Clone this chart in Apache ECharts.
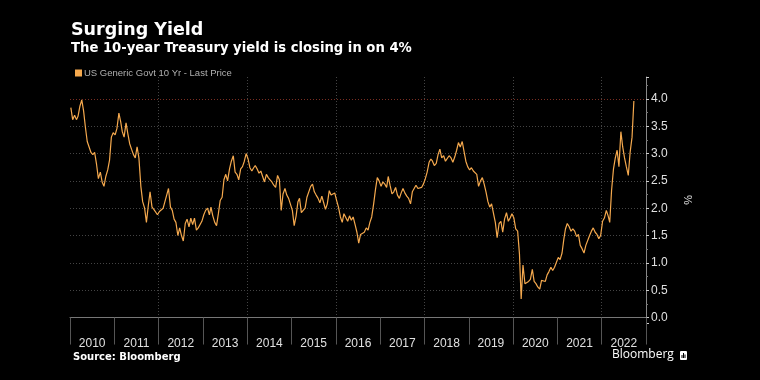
<!DOCTYPE html>
<html>
<head>
<meta charset="utf-8">
<script src="https://cdn.jsdelivr.net/npm/echarts@6/dist/echarts.min.js"></script>
<style>
html,body{margin:0;padding:0;background:#000;}
#chart{width:760px;height:380px;}
</style>
</head>
<body>
<div id="chart"></div>
<script>
// Year labels on the x axis
const years = ['2010','2011','2012','2013','2014','2015','2016','2017','2018','2019','2020','2021','2022'];
// US 10-year yield (%), two readings per month (early / late)
const y2010 = [3.84,3.62, 3.70,3.62, 3.68,3.86, 3.98,3.78, 3.48,3.22, 3.24,3.02, 2.98,3.02, 2.80,2.54, 2.66,2.48, 2.40,2.58, 2.70,2.88, 3.30,3.38];
const y2011 = [3.34,3.46, 3.74,3.58, 3.40,3.30, 3.56,3.36, 3.18,3.08, 2.98,2.92, 3.12,2.92, 2.40,2.12, 2.00,1.74, 2.04,2.30, 2.02,1.98, 2.00,1.88];
const y2012 = [1.94,1.96, 2.00,1.98, 2.24,2.36, 2.02,1.96, 1.80,1.74, 1.50,1.64, 1.50,1.40, 1.72,1.80, 1.66,1.82, 1.70,1.82, 1.60,1.64, 1.66,1.76];
const y2013 = [1.88,1.96, 2.00,1.88, 2.02,1.86, 1.74,1.68, 1.90,2.14, 2.20,2.52, 2.62,2.50, 2.72,2.86, 2.96,2.66, 2.62,2.52, 2.72,2.76, 2.86,3.00];
const y2014 = [2.90,2.74, 2.68,2.74, 2.78,2.72, 2.64,2.68, 2.58,2.48, 2.62,2.56, 2.52,2.48, 2.42,2.38, 2.60,2.52, 1.96,2.26, 2.36,2.24, 2.18,2.20];
const y2015 = [1.96,1.68, 1.86,2.12, 2.18,1.92, 1.90,2.00, 2.20,2.18, 2.40,2.44, 2.30,2.24, 2.18,2.10, 2.22,2.10, 1.98,2.08, 2.32,2.24, 2.22,2.28];
const y2016 = [2.14,2.02, 1.84,1.74, 1.90,1.88, 1.76,1.86, 1.78,1.84, 1.70,1.56, 1.36,1.52, 1.54,1.56, 1.64,1.60, 1.74,1.84, 2.08,2.34, 2.56,2.50];
const y2017 = [2.40,2.48, 2.44,2.38, 2.58,2.42, 2.26,2.30, 2.38,2.24, 2.18,2.28, 2.36,2.28, 2.22,2.18, 2.08,2.30, 2.36,2.42, 2.36,2.34, 2.38,2.44];
const y2018 = [2.54,2.66, 2.84,2.90, 2.86,2.78, 2.82,2.98, 3.08,2.92, 2.96,2.86, 2.84,2.96, 2.92,2.84, 2.94,3.06, 3.20,3.12, 3.22,3.04, 2.86,2.76];
const y2019 = [2.70,2.74, 2.68,2.66, 2.62,2.40, 2.50,2.56, 2.44,2.30, 2.12,2.02, 2.08,2.06, 1.74,1.46, 1.72,1.76, 1.56,1.80, 1.92,1.76, 1.82,1.90];
const y2020 = [1.82,1.62, 1.58,1.16, 0.34,0.96, 0.62,0.64, 0.66,0.70, 0.88,0.66, 0.62,0.56, 0.52,0.68, 0.68,0.66, 0.78,0.84, 0.92,0.86, 0.92,0.94];
const y2021 = [1.10,1.06, 1.18,1.44, 1.62,1.72, 1.66,1.58, 1.62,1.58, 1.48,1.52, 1.32,1.26, 1.18,1.32, 1.32,1.50, 1.58,1.64, 1.56,1.52, 1.44,1.50];
const y2022 = [1.76,1.82, 1.96,1.86, 1.74,2.32, 2.72,2.92, 3.06,2.76, 3.40,3.12, 2.92,2.76, 2.60,3.02, 3.30,3.96];
const seriesName = 'US Generic Govt 10 Yr - Last Price';

const yearly = [y2010,y2011,y2012,y2013,y2014,y2015,y2016,y2017,y2018,y2019,y2020,y2021,y2022];
const points = [];
yearly.forEach(function (vals, yi) {
  const yr = 2010 + yi;
  vals.forEach(function (v, k) {
    const month = Math.floor(k / 2);
    const day = (k % 2) ? 23 : 8;
    points.push([Date.UTC(yr, month, day), v]);
  });
});

const chart = echarts.init(document.getElementById('chart'), null, {renderer: 'canvas'});
const txt = '#e0e0e0';
chart.setOption({
  backgroundColor: '#000',
  animation: false,
  title: {
    text: 'Surging Yield',
    subtext: 'The 10-year Treasury yield is closing in on 4%',
    left: 66, top: 16, itemGap: 3,
    textStyle: {color: '#fff', fontSize: 17.5, fontWeight: 'bold', fontFamily: 'DejaVu Sans'},
    subtextStyle: {color: '#fff', fontSize: 13.2, fontWeight: 'bold', fontFamily: 'DejaVu Sans'}
  },
  legend: {
    left: 70, top: 63, itemWidth: 7, itemHeight: 7, icon: 'rect',
    data: [seriesName],
    textStyle: {color: '#b0b0b0', fontSize: 9.5, fontFamily: 'Liberation Sans', padding: [0,0,0,-3]}
  },
  grid: {left: 70, right: 114, top: 77, bottom: 57},
  xAxis: [
    {
      type: 'category', data: years, boundaryGap: true,
      axisLine: {show: true, lineStyle: {color: '#777', width: 1}},
      axisTick: {show: true, length: 27, lineStyle: {color: '#555'}},
      axisLabel: {color: txt, fontSize: 12, margin: 15, fontFamily: 'Liberation Sans'},
      splitLine: {show: true, interval: function (i) { return i > 0 && i % 2 === 0; },
        lineStyle: {color: '#444', type: [1, 2]}}
    },
    {
      type: 'time', show: false,
      min: Date.UTC(2010, 0, 1), max: Date.UTC(2023, 0, 1)
    }
  ],
  yAxis: {
    type: 'value', position: 'right', min: -0.1, max: 4.4, splitNumber: 9,
    name: '%', nameLocation: 'middle', nameGap: 36, nameRotate: -90,
    nameTextStyle: {color: txt, fontSize: 11},
    axisLine: {show: true, lineStyle: {color: '#888'}},
    axisTick: {show: true, length: 3, lineStyle: {color: '#ccc'}},
    minorTick: {show: true, splitNumber: 2, length: 2, lineStyle: {color: '#777'}},
    axisLabel: {color: txt, fontSize: 12, margin: 5, showMinLabel: false, showMaxLabel: false,
      fontFamily: 'Liberation Sans',
      formatter: function (v) { return v.toFixed(1); }},
    splitLine: {show: true, showMinLine: false, showMaxLine: false,
      lineStyle: {color: '#444', type: [1, 2]}}
  },
  series: [{
    name: seriesName, type: 'line', xAxisIndex: 1, data: points,
    showSymbol: false, symbol: 'none',
    lineStyle: {color: '#f5a94e', width: 1.2},
    itemStyle: {color: '#f5a94e'},
    markLine: {
      silent: true, symbol: 'none', label: {show: false},
      lineStyle: {color: '#7a2e22', type: [1, 2], width: 1},
      data: [{yAxis: 4.0}]
    }
  }],
  graphic: [
    {type: 'text', left: 73, top: 352,
      style: {text: 'Source: Bloomberg', fill: '#fff', fontSize: 10, fontWeight: 'bold', fontFamily: 'DejaVu Sans'}},
    {type: 'text', left: 612, top: 349,
      style: {text: 'Bloomberg', fill: '#fff', fontSize: 12, fontFamily: 'Open Sans'}},
    {type: 'group', left: 680, top: 351, children: [
      {type: 'rect', shape: {x: 0, y: 0, width: 7, height: 9, r: 1}, style: {fill: '#fff'}},
      {type: 'rect', shape: {x: 1.5, y: 4, width: 1, height: 3}, style: {fill: '#000'}},
      {type: 'rect', shape: {x: 3, y: 2, width: 1, height: 5}, style: {fill: '#000'}},
      {type: 'rect', shape: {x: 4.5, y: 3.5, width: 1, height: 3.5}, style: {fill: '#000'}}
    ]}
  ]
});
</script>
</body>
</html>
